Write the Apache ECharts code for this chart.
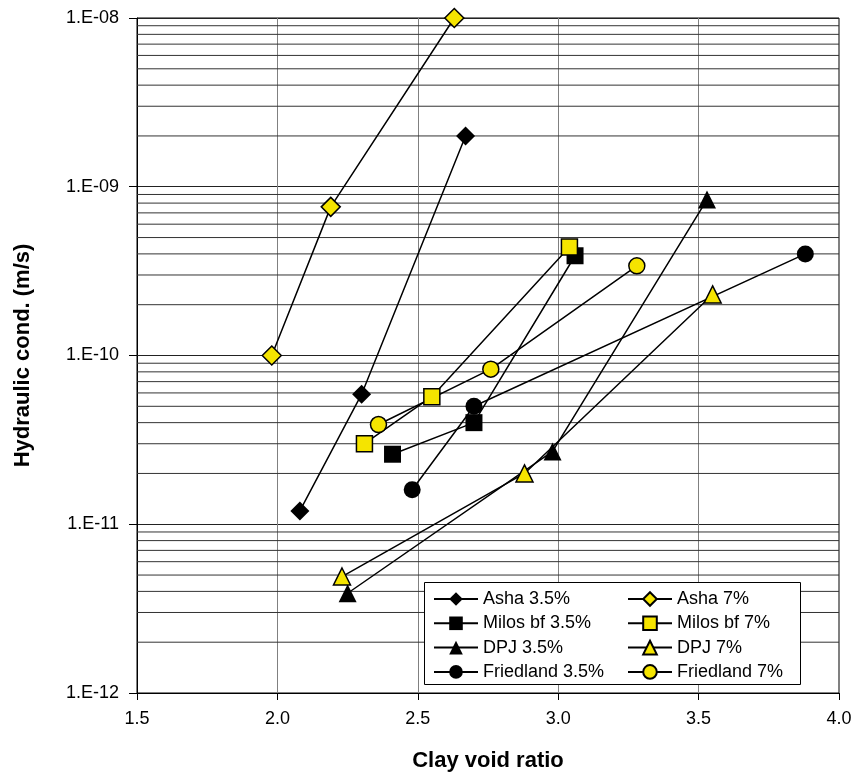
<!DOCTYPE html>
<html>
<head>
<meta charset="utf-8">
<title>Hydraulic conductivity vs clay void ratio</title>
<script src="https://cdn.jsdelivr.net/npm/echarts@6/dist/echarts.min.js"></script>
<style>
  html, body { margin: 0; padding: 0; background: #fff; }
  #chart { width: 851px; height: 776px; }
</style>
</head>
<body>
<div id="chart"></div>
<script>
// Clay void ratio (x) and hydraulic conductivity in m/s (y), three points per material
const asha35      = [[2.08, 1.2e-11], [2.30, 5.9e-11], [2.67, 2.0e-9]];
const asha7       = [[1.98, 1.0e-10], [2.19, 7.6e-10], [2.63, 1.0e-8]];
const milos35     = [[2.41, 2.6e-11], [2.70, 4.0e-11], [3.06, 3.9e-10]];
const milos7      = [[2.31, 3.0e-11], [2.55, 5.7e-11], [3.04, 4.4e-10]];
const dpj35       = [[2.25, 3.9e-12], [2.98, 2.7e-11], [3.53, 8.4e-10]];
const dpj7        = [[2.23, 4.9e-12], [2.88, 2.0e-11], [3.55, 2.3e-10]];
const friedland35 = [[2.48, 1.6e-11], [2.70, 5.0e-11], [3.88, 4.0e-10]];
const friedland7  = [[2.36, 3.9e-11], [2.76, 8.3e-11], [3.28, 3.4e-10]];

const seriesNames = [
  'Asha 3.5%', 'Asha 7%', 'Milos bf 3.5%', 'Milos bf 7%',
  'DPJ 3.5%', 'DPJ 7%', 'Friedland 3.5%', 'Friedland 7%'
];

// Axis ticks
const xMin = 1.5, xMax = 4.0;
const xTickValues = [1.5, 2.0, 2.5, 3.0, 3.5, 4.0];
const xTickLabels = ['1.5', '2.0', '2.5', '3.0', '3.5', '4.0'];
const yTickValues = [1e-12, 1e-11, 1e-10, 1e-9, 1e-8];
const yTickLabels = ['1.E-12', '1.E-11', '1.E-10', '1.E-09', '1.E-08'];

// Intermediate log gridlines (2..9 within each decade)
const yMinorLines = [];
for (let d = -12; d < -8; d++) {
  for (let k = 2; k <= 9; k++) yMinorLines.push(k * Math.pow(10, d));
}

const FONT = '"Liberation Sans", Arial, Helvetica, sans-serif';
const YELLOW = '#F5E400';
const BLACK = '#000000';

function pickLabel(values, labels, v, useLog) {
  let best = 0, bestD = Infinity;
  values.forEach((t, i) => {
    const d = useLog ? Math.abs(Math.log10(t) - Math.log10(v)) : Math.abs(t - v);
    if (d < bestD) { bestD = d; best = i; }
  });
  return bestD < 1e-6 ? labels[best] : '';
}

function makeSeries(name, data, symbol, size, fill) {
  return {
    name: name,
    type: 'line',
    data: data,
    symbol: symbol,
    symbolSize: size,
    showAllSymbol: true,
    z: 5,
    lineStyle: { color: BLACK, width: 1.5 },
    itemStyle: {
      color: fill,
      borderColor: BLACK,
      borderWidth: fill === BLACK ? 0 : 1.5
    },
    emphasis: { disabled: true }
  };
}

const chart = echarts.init(document.getElementById('chart'), null, { renderer: 'canvas' });

// Horizontal gridlines at 2..9 of each decade, spanning the full x range
const gridSeries = yMinorLines.map((v, i) => ({
  name: 'grid-' + i,
  type: 'line',
  data: [[xMin, v], [xMax, v]],
  symbol: 'none',
  silent: true,
  z: 1,
  lineStyle: { color: '#333', width: 1 },
  emphasis: { disabled: true }
}));

const series = gridSeries.concat([
  makeSeries(seriesNames[0], asha35, 'diamond', 19, BLACK),
  makeSeries(seriesNames[1], asha7, 'diamond', 19, YELLOW),
  makeSeries(seriesNames[2], milos35, 'rect', 17, BLACK),
  makeSeries(seriesNames[3], milos7, 'rect', 16, YELLOW),
  makeSeries(seriesNames[4], dpj35, 'triangle', 18, BLACK),
  makeSeries(seriesNames[5], dpj7, 'triangle', 17, YELLOW),
  makeSeries(seriesNames[6], friedland35, 'circle', 17, BLACK),
  makeSeries(seriesNames[7], friedland7, 'circle', 16, YELLOW)
]);

const legendText = { fontFamily: FONT, fontSize: 18, color: '#000' };

chart.setOption({
  animation: false,
  backgroundColor: '#fff',
  grid: {
    left: 137, right: 12, top: 18, bottom: 83,
    outerBoundsMode: 'none',
    containLabel: false,
    show: true, borderColor: '#000', borderWidth: 1
  },
  xAxis: {
    type: 'value',
    min: xMin, max: xMax, interval: 0.5,
    name: 'Clay void ratio',
    nameLocation: 'middle',
    nameGap: 57,
    nameTextStyle: { fontFamily: FONT, fontSize: 22, fontWeight: 'bold', color: '#000' },
    axisLine: { show: true, lineStyle: { color: '#000', width: 1 } },
    axisTick: { show: true, inside: false, length: 7, lineStyle: { color: '#000' } },
    axisLabel: {
      fontFamily: FONT, fontSize: 18, color: '#000', margin: 17,
      formatter: v => pickLabel(xTickValues, xTickLabels, v, false)
    },
    splitLine: { show: true, lineStyle: { color: '#808080', width: 1 } }
  },
  yAxis: {
    type: 'log',
    logBase: 10,
    min: 1e-12, max: 1e-8,
    interval: 1,
    name: 'Hydraulic cond. (m/s)',
    nameLocation: 'middle',
    nameGap: 103,
    nameTextStyle: { fontFamily: FONT, fontSize: 22, fontWeight: 'bold', color: '#000' },
    axisLine: { show: true, lineStyle: { color: '#000', width: 1 } },
    axisTick: { show: true, inside: false, length: 8, lineStyle: { color: '#000' } },
    axisLabel: {
      fontFamily: FONT, fontSize: 18, color: '#000', margin: 18,
      formatter: v => pickLabel(yTickValues, yTickLabels, v, true)
    },
    splitLine: { show: true, lineStyle: { color: '#222', width: 1 } }
  },
  legend: [
    {
      data: [seriesNames[0], seriesNames[2], seriesNames[4], seriesNames[6]],
      orient: 'vertical',
      left: 433, top: 590,
      itemWidth: 44, itemHeight: 17, itemGap: 6.3,
      padding: 0,
      z: 20,
      selectedMode: false,
      textStyle: legendText
    },
    {
      data: [seriesNames[1], seriesNames[3], seriesNames[5], seriesNames[7]],
      orient: 'vertical',
      left: 627, top: 590,
      itemWidth: 44, itemHeight: 17, itemGap: 6.3,
      padding: 0,
      z: 20,
      selectedMode: false,
      textStyle: legendText
    }
  ],
  graphic: [
    {
      type: 'rect',
      left: 424, top: 582,
      z: 10,
      shape: { width: 376, height: 102 },
      style: { fill: '#fff', stroke: '#000', lineWidth: 1 }
    }
  ],
  series: series
});
</script>
</body>
</html>
